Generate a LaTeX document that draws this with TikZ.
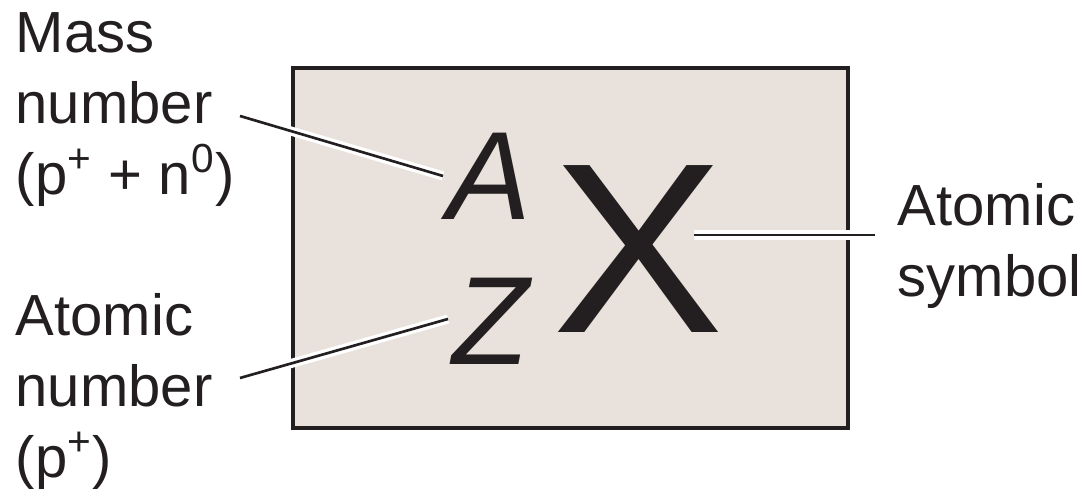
\documentclass[tikz,border=0pt]{standalone}
\usepackage{fontspec}
\setmainfont{Liberation Sans}
\usepackage{tikz}
\usetikzlibrary{positioning}
\definecolor{ink}{HTML}{231F20}
\definecolor{boxfill}{HTML}{E9E1DB}

\begin{document}
\begin{tikzpicture}[x=0.01cm, y=-0.01cm,
  lbl/.style={anchor=north west, inner sep=0pt, align=left, text=ink, font=\fontsize{16.5}{20.2}\selectfont},
  sym/.style={anchor=base, inner sep=0pt, text=ink},
  lead/.style={draw=ink, line width=0.75pt, preaction={draw=white, line width=2.6pt}}
]
\useasboundingbox (0,0) rectangle (1090,495);
\draw[draw=ink, fill=boxfill, line width=1.15pt] (293,68) rectangle (848,428);

\node[sym, font=\fontsize{35.7}{36}\selectfont\itshape] (mass) at (489,220) {A};
\node[sym, font=\fontsize{35.7}{36}\selectfont\itshape] (num) at (491,365) {Z};
\node[sym, font=\fontsize{69}{69}\selectfont, xscale=1.06] (elem) at (638,333) {X};

\node[lbl] (masslbl) at (15,12) {Mass\\number\\(p\textsuperscript{+} + n\textsuperscript{0})};
\node[lbl] (numlbl) at (15,293) {Atomic\\number\\(p\textsuperscript{+})};
\node[lbl] (elemlbl) at (897,183) {Atomic\\symbol};

% leader lines
\coordinate (massfrom) at (240,116);
\coordinate (massto) at (443,176);
\coordinate (numfrom) at (240,378);
\coordinate (numto) at (448,319);
\coordinate (elemfrom) at (694,235);
\coordinate (elemto) at (875,235);

\draw[lead] (massfrom) -- (massto);
\draw[lead] (numfrom) -- (numto);
\draw[lead] (elemfrom) -- (elemto);
\end{tikzpicture}
\end{document}
